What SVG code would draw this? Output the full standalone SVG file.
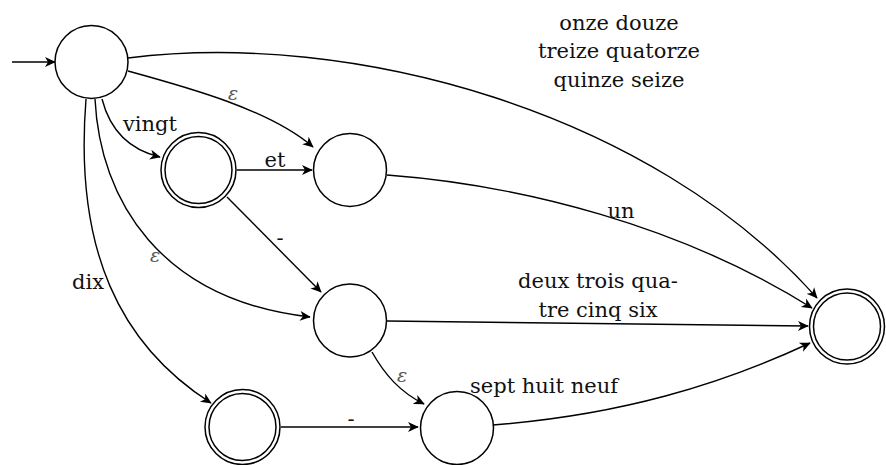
<svg xmlns="http://www.w3.org/2000/svg" width="886" height="465" viewBox="0 0 886 465">
<defs>
<style>
.st{fill:#fff;stroke:#000;stroke-width:1.5}
.e{fill:none;stroke:#000;stroke-width:1.4;marker-end:url(#arr)}
.t{font-family:"DejaVu Serif",serif;font-size:21px;fill:#111;text-anchor:middle}
.eps{font-family:"DejaVu Serif",serif;font-style:italic;font-size:19px;fill:#555;text-anchor:middle}
</style>
<marker id="arr" viewBox="-12 -7 14 14" refX="0" refY="0" markerWidth="14" markerHeight="14" markerUnits="userSpaceOnUse" orient="auto">
<path d="M0.8,0 L-10,-5 L-7,0 L-10,5 Z" fill="#000"/>
</marker>
</defs>
<rect width="886" height="465" fill="#fff"/>
<g id="connectors">
<path class="e" d="M12,62 L55,62"/>
<path class="e" d="M128,58 C350,30 650,110 817,298"/>
<path class="e" d="M128,71 C190,88 270,110 313,147"/>
<path class="e" d="M102,99 C110,130 130,150 160,157"/>
<path class="e" d="M95,99 C100,200 160,300 310,317"/>
<path class="e" d="M86,99 C74,250 120,345 211,403"/>
<path class="e" d="M237,170 L312,170"/>
<path class="e" d="M227,197 L321,292"/>
<path class="e" d="M387,175 C520,185 680,225 812,308"/>
<path class="e" d="M387,321 L808,326"/>
<path class="e" d="M372,352 C385,375 400,392 424,404"/>
<path class="e" d="M281,427 L418,427"/>
<path class="e" d="M493,425 C620,415 720,385 810,343"/>
</g>
<g id="labels">
<text class="t" x="619" y="30">onze douze</text>
<text class="t" x="619" y="58">treize quatorze</text>
<text class="t" x="619" y="87">quinze seize</text>
<text class="eps" x="233" y="100">ε</text>
<text class="t" x="150" y="131">vingt</text>
<text class="t" x="275" y="167">et</text>
<text class="t" x="280" y="245">-</text>
<text class="eps" x="155" y="262">ε</text>
<text class="t" x="88" y="289">dix</text>
<text class="t" x="621" y="218">un</text>
<text class="t" x="598" y="288">deux trois qua-</text>
<text class="t" x="598" y="317">tre cinq six</text>
<text class="eps" x="402" y="382">ε</text>
<text class="t" x="544" y="393">sept huit neuf</text>
<text class="t" x="351" y="426">-</text>
</g>
<g id="q0"><circle class="st" cx="91.5" cy="62" r="36.5"/></g>
<g id="q1"><circle class="st" cx="198.5" cy="170" r="37.5"/><circle class="st" cx="198.5" cy="170" r="33.5"/></g>
<g id="q2"><circle class="st" cx="350" cy="170" r="36.5"/></g>
<g id="q3"><circle class="st" cx="350" cy="320.5" r="36.5"/></g>
<g id="q4"><circle class="st" cx="242.5" cy="427" r="37.5"/><circle class="st" cx="242.5" cy="427" r="33.5"/></g>
<g id="q5"><circle class="st" cx="457" cy="428" r="36.5"/></g>
<g id="q6"><circle class="st" cx="847" cy="326.5" r="37.5"/><circle class="st" cx="847" cy="326.5" r="33.5"/></g>
</svg>
